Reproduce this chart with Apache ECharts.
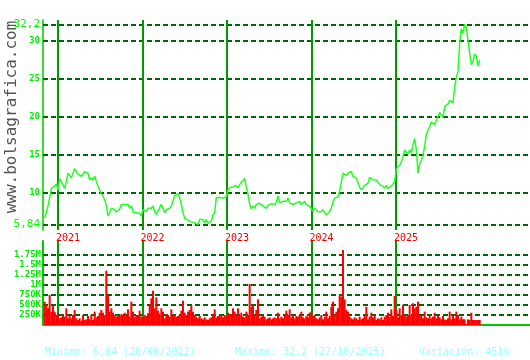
<!DOCTYPE html>
<html>
<head>
<meta charset="utf-8">
<script src="https://cdn.jsdelivr.net/npm/echarts@6/dist/echarts.min.js"></script>
<style>
html,body{margin:0;padding:0;background:#fff;}
#chart{width:530px;height:360px;}
</style>
</head>
<body>
<div id="chart"></div>
<script>
// ---- data ----
const sampleStartYear = 2020.8422;   // x of first sample (fractional year)
const sampleStepYears = 0.019724;    // spacing between samples (years)

const price = [
  6.7, 7.4, 8.3, 9.4, 10.6, 10.6, 10.9, 11.2, 10.4, 11.9,
  11.7, 11.1, 10.6, 11.5, 12.6, 12.3, 12.0, 12.6, 13.2, 12.8,
  12.5, 12.6, 12.2, 12.5, 12.8, 13.0, 12.6, 11.7, 12.0, 11.7,
  12.2, 11.5, 10.9, 10.4, 9.9, 9.6, 9.1, 8.3, 7.0, 7.4,
  8.0, 8.1, 7.8, 7.5, 7.5, 7.9, 8.5, 8.3, 8.5, 8.7,
  8.5, 8.0, 8.3, 7.5, 7.3, 7.4, 7.2, 7.3, 7.0, 7.8,
  7.7, 7.6, 8.0, 8.1, 8.0, 8.3, 7.6, 7.2, 7.6,
  8.1, 8.5, 8.0, 7.4, 7.8, 7.8, 8.0, 8.3, 8.1, 9.65,
  9.8, 9.9, 9.35, 8.5, 7.4, 6.7, 6.6, 6.4, 6.4, 6.2,
  6.3, 6.1, 6.3, 5.84, 6.5, 6.7, 6.5, 6.1, 6.5, 6.0,
  6.1, 6.3, 7.1, 7.4, 9.4, 9.3, 9.4, 9.2, 9.35, 9.2,
  9.5, 10.4, 10.7, 10.5, 10.8, 10.7, 11.0, 10.65, 11.1, 11.4,
  11.6, 11.9, 10.7, 9.9, 8.5, 7.9, 8.3, 8.0, 8.5, 8.4,
  8.65, 8.5, 8.3, 8.1,
  7.96, 8.4, 8.26, 8.57, 8.7, 8.48, 8.83, 9.57, 8.7, 8.65,
  8.9, 9.09, 8.9, 9.35, 8.7, 8.9, 8.48, 8.26, 8.7, 8.48,
  8.9, 8.48, 8.7, 8.9, 8.48, 8.7, 8.26, 8.13, 7.6, 8.04,
  7.83, 7.52, 7.7, 7.52, 7.83, 7.39, 7.09, 7.26, 7.6, 8.04,
  8.83, 9.35, 9.13, 9.5, 10.3, 11.43, 12.6, 12.74, 12.3, 12.6,
  12.4, 12.83, 12.17, 12.3, 11.96, 11.74, 10.74, 10.43, 10.65, 11.0,
  10.87, 11.3, 12.04, 11.96, 11.74, 11.87, 11.7, 11.52,
  11.1, 11.0, 10.9, 10.6, 11.0, 10.6, 10.66, 10.9, 10.66, 11.5,
  13.2, 13.07, 13.64, 14.08, 14.82, 15.66, 15.48, 15.13, 15.7, 15.26,
  16.36, 17.15, 15.7, 12.63, 13.8, 14.3, 14.96, 16.14, 17.68, 18.25,
  18.7, 19.34, 19.56, 18.99, 18.99, 20.1, 20.6, 20.5, 19.96, 21.4,
  21.6, 21.7, 22.2, 22.4, 21.84, 24.0, 25.2, 26.0, 29.7, 31.6,
  31.0, 32.2, 31.8, 30.0, 30.0, 26.9, 27.3, 28.3, 28.0, 26.7,
  27.5
];

// volume in thousands of shares
const volumeK = [
  583, 500, 417, 750, 333, 500, 333, 250, 308, 167,
  192, 250, 208, 417, 167, 225, 167, 250, 375, 167,
  125, 167, 108, 250, 125, 142, 225, 142, 250, 125,
  333, 192, 225, 308, 375, 308, 250, 1358, 725, 333,
  417, 308, 250, 208, 250, 225, 275, 250, 308, 250,
  392, 208, 583, 333, 208, 250, 250, 358, 208, 167,
  250, 225, 292, 475, 667, 858, 417, 692, 358, 250,
  417, 333, 167, 275, 250, 208, 392, 250, 250, 208,
  225, 250, 358, 608, 308, 250, 333, 375, 500, 333,
  250, 208, 167, 225, 167, 142, 192, 142, 125, 167,
  192, 250, 392, 192, 225, 225, 250, 192, 250, 225,
  308, 225, 275, 417, 333, 250, 417, 250, 308, 208,
  192, 333, 250, 1025, 458, 500, 250, 375, 642, 167,
  208, 250, 208, 142, 167, 192, 142, 167, 192, 167,
  308, 167, 208, 167, 250, 358, 250, 392, 192, 250,
  167, 225, 208, 250, 333, 192, 167, 225, 192, 308,
  333, 225, 250, 167, 142, 192, 250, 142, 208, 333,
  167, 225, 458, 583, 250, 333, 417, 750, 708, 1875,
  642, 375, 333, 208, 167, 142, 192, 167, 125, 208,
  142, 167, 225, 458, 142, 208, 308, 192, 250, 125,
  167, 142, 192, 125, 208, 250, 308, 208, 392, 225,
  725, 392, 192, 417, 250, 500, 250, 208, 250, 500,
  225, 542, 417, 458, 583, 250, 225, 167, 333, 192,
  167, 250, 167, 208, 308, 167, 225, 192, 142, 225,
  142, 125, 167, 333, 142, 250, 167, 333, 250, 142,
  208, 142, 142, 25, 142, 125, 308, 125, 125, 125,
  125, 125
];

const yearMarks = [2021, 2022, 2023, 2024, 2025];
const priceTicks = [5.84, 10, 15, 20, 25, 30, 32.2];
const volumeTicksK = [250, 500, 750, 1000, 1250, 1500, 1750];
const statsMin = 'Minimo: 5,84 (26/08/2022)';
const statsMax = 'Maximo: 32,2 (27/10/2025)';
const statsVar = 'Variación: 451%';
const watermark = 'www.bolsagrafica.com';

// ---- chart ----
const mono = 'DejaVu Sans Mono';
const priceData = price.map((v, i) => [sampleStartYear + i * sampleStepYears, v]);
const volData = volumeK.map((v, i) => [sampleStartYear + i * sampleStepYears, v]);

const xMin = 2020.8225, xMax = 2026.5858;
const gridDash = {color: '#006400', width: 2, type: [5, 3]};
const yearLine = {color: '#009900', width: 2, type: 'solid'};

const chart = echarts.init(document.getElementById('chart'), null, {renderer: 'canvas'});
chart.setOption({
  animation: false,
  backgroundColor: '#ffffff',
  grid: [
    {left: 43, right: 0, top: 20, height: 210},
    {left: 43, right: 0, top: 241, height: 84}
  ],
  xAxis: [
    {
      type: 'value', gridIndex: 0, min: xMin, max: xMax,
      axisLine: {show: false}, axisTick: {show: false}, splitLine: {show: false},
      axisLabel: {
        customValues: yearMarks, formatter: v => String(Math.round(v)),
        color: '#ee0000', fontFamily: mono, fontSize: 10, align: 'left',
        margin: 3, padding: [0, 0, 0, -2]
      }
    },
    {
      type: 'value', gridIndex: 1, min: xMin, max: xMax,
      axisLine: {show: true, onZero: false, lineStyle: {color: '#00cc00', width: 2}},
      axisTick: {show: false}, splitLine: {show: false}, axisLabel: {show: false}
    }
  ],
  yAxis: [
    {
      type: 'value', gridIndex: 0, min: 5.13, max: 32.76,
      axisLine: {show: true, lineStyle: {color: '#33dd33', width: 2}},
      axisTick: {show: false}, splitLine: {show: false},
      axisLabel: {
        customValues: priceTicks, margin: 3,
        formatter: v => {
          if (Math.abs(v - 5.84) < 1e-6 || Math.abs(v - 32.2) < 1e-6) {
            return '{a|' + String(v).replace('.', ',') + '}';
          }
          return '{b|' + Math.round(v) + '}';
        },
        rich: {
          a: {fontFamily: mono, fontSize: 11, color: '#00ff00'},
          b: {fontFamily: mono, fontSize: 9, fontWeight: 'bold', color: '#00ee00'}
        }
      }
    },
    {
      type: 'value', gridIndex: 1, min: 0, max: 2100,
      axisLine: {show: true, lineStyle: {color: '#00cc00', width: 2}},
      axisTick: {show: false}, splitLine: {show: false},
      axisLabel: {
        customValues: volumeTicksK, margin: 2,
        fontFamily: mono, fontSize: 9, fontWeight: 'bold', color: '#00ee00',
        formatter: v => v >= 1000 ? (v / 1000) + 'M' : v + 'K'
      }
    }
  ],
  graphic: [
    {
      type: 'text', x: 12, y: 117, rotation: Math.PI / 2,
      style: {text: watermark, fill: '#555555', font: '16px "DejaVu Sans Mono"',
              textAlign: 'center', textVerticalAlign: 'middle'}
    },
    {type: 'text', x: 45, y: 352, style: {text: statsMin, fill: '#99ffff', font: '10px "DejaVu Sans Mono"', textVerticalAlign: 'middle'}},
    {type: 'text', x: 235, y: 352, style: {text: statsMax, fill: '#99ffff', font: '10px "DejaVu Sans Mono"', textVerticalAlign: 'middle'}},
    {type: 'text', x: 419, y: 352, style: {text: statsVar, fill: '#99ffff', font: '10px "DejaVu Sans Mono"', textVerticalAlign: 'middle'}}
  ],
  series: [
    {
      type: 'line', xAxisIndex: 0, yAxisIndex: 0, data: priceData,
      showSymbol: false, symbol: 'none',
      lineStyle: {color: '#22ff22', width: 1.5}, z: 5,
      markLine: {
        silent: true, symbol: ['none', 'none'], label: {show: false},
        data: priceTicks.map(v => ({yAxis: v, lineStyle: gridDash}))
          .concat(yearMarks.map(y => ({xAxis: y, lineStyle: yearLine})))
      }
    },
    {
      type: 'bar', xAxisIndex: 1, yAxisIndex: 1, data: volData,
      barWidth: 2, itemStyle: {color: '#ff0000'}, z: 5,
      markLine: {
        silent: true, symbol: ['none', 'none'], label: {show: false},
        data: volumeTicksK.map(v => ({yAxis: v, lineStyle: gridDash}))
          .concat(yearMarks.map(y => ({xAxis: y, lineStyle: yearLine})))
      }
    }
  ]
});
</script>
</body>
</html>
